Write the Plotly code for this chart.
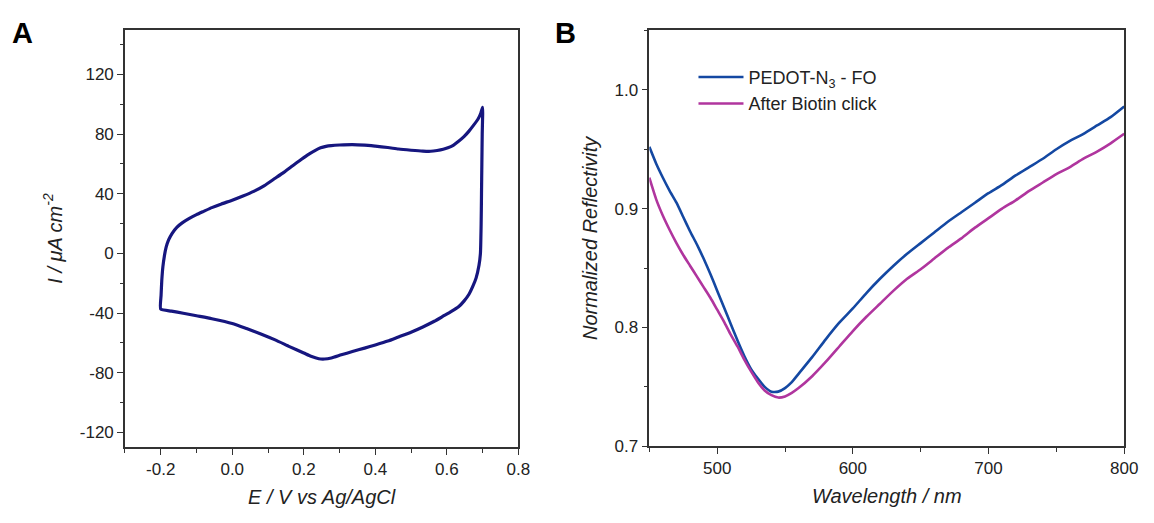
import plotly.graph_objects as go

# ---- Panel A: cyclic voltammogram ----
cv_E = [-0.200, -0.199, -0.197, -0.194, -0.190, -0.185, -0.178, -0.168, -0.155, -0.140,
        -0.120, -0.100, -0.080, -0.057, -0.030, 0.000, 0.030, 0.060, 0.090, 0.120,
        0.145, 0.170, 0.190, 0.209, 0.230, 0.247, 0.262, 0.277, 0.300, 0.336, 0.370,
        0.400, 0.435, 0.465, 0.500, 0.533, 0.555, 0.573, 0.590, 0.603, 0.618, 0.632,
        0.648, 0.662, 0.675, 0.687, 0.695, 0.700,
        0.699, 0.698, 0.697, 0.696, 0.694, 0.690, 0.682, 0.672, 0.662, 0.648, 0.632,
        0.612, 0.593, 0.565, 0.533, 0.500, 0.465, 0.435, 0.400, 0.370, 0.336, 0.305,
        0.277, 0.258, 0.242, 0.220, 0.200, 0.160, 0.120, 0.080, 0.040, 0.000, -0.057,
        -0.100, -0.137, -0.170, -0.200]
cv_I = [-37.3, -28.0, -18.0, -9.0, -2.0, 4.0, 9.0, 13.5, 17.5, 20.5,
        23.5, 26.0, 28.2, 30.7, 33.2, 35.7, 38.5, 41.6, 45.5, 50.4,
        54.5, 59.0, 62.5, 65.8, 68.8, 70.8, 71.8, 72.3, 72.7, 73.0, 72.6,
        71.9, 71.0, 70.0, 69.2, 68.6, 68.5, 69.0, 69.8, 70.8, 72.5, 75.0,
        78.3, 82.0, 86.0, 90.0, 94.0, 98.0,
        80.0, 60.0, 40.0, 20.0, 0.0, -8.0, -16.4, -22.5, -27.4, -32.0, -36.0,
        -39.0, -41.6, -45.5, -49.3, -52.8, -56.0, -58.8, -61.4, -63.5, -65.8, -68.0,
        -70.1, -70.8, -70.6, -69.0, -66.8, -62.5, -58.0, -54.0, -50.4, -47.0, -43.8,
        -41.8, -40.1, -38.7, -37.3]

# ---- Panel B: reflectivity spectra ----
wl = [450, 455, 460, 465, 470, 475, 480, 485, 490, 495, 500, 505, 510, 515, 520, 525,
      530, 535, 540, 545, 550, 555, 560, 570, 580, 590, 600, 610, 620, 630, 640, 650,
      660, 670, 680, 690, 700, 710, 720, 730, 740, 750, 760, 770, 780, 790, 800]
refl_pedot = [0.952, 0.938, 0.926, 0.915, 0.905, 0.893, 0.881, 0.870, 0.858, 0.845,
              0.831, 0.817, 0.803, 0.789, 0.776, 0.765, 0.757, 0.750, 0.746, 0.746,
              0.749, 0.754, 0.761, 0.775, 0.790, 0.804, 0.816, 0.829, 0.841, 0.852,
              0.862, 0.871, 0.880, 0.889, 0.897, 0.905, 0.913, 0.920, 0.928, 0.935,
              0.942, 0.950, 0.957, 0.963, 0.970, 0.977, 0.986]
refl_biotin = [0.926, 0.908, 0.894, 0.882, 0.871, 0.861, 0.852, 0.843, 0.834, 0.825,
               0.815, 0.805, 0.794, 0.784, 0.773, 0.763, 0.754, 0.747, 0.743, 0.741,
               0.742, 0.745, 0.749, 0.759, 0.771, 0.784, 0.797, 0.809, 0.820, 0.831,
               0.841, 0.849, 0.858, 0.867, 0.875, 0.884, 0.892, 0.900, 0.907, 0.915,
               0.922, 0.929, 0.935, 0.942, 0.948, 0.955, 0.963]

W, H = 1154, 523
FONT = "Liberation Sans, Arial, sans-serif"
TICK = 17
TITLE = 20

fig = go.Figure()
fig.add_trace(go.Scatter(x=cv_E, y=cv_I, mode="lines",
                         line=dict(color="#16167f", width=3.2, shape="spline", smoothing=0.5),
                         showlegend=False, xaxis="x", yaxis="y"))
fig.add_trace(go.Scatter(x=wl, y=refl_pedot, mode="lines", name="PEDOT-N<sub>3</sub> - FO",
                         line=dict(color="#1448a2", width=2.6, shape="spline", smoothing=0.5),
                         xaxis="x2", yaxis="y2"))
fig.add_trace(go.Scatter(x=wl, y=refl_biotin, mode="lines", name="After Biotin click",
                         line=dict(color="#b0359e", width=2.6, shape="spline", smoothing=0.5),
                         xaxis="x2", yaxis="y2"))

ax_common = dict(showline=True, linecolor="#333", linewidth=1.5, mirror=True,
                 ticks="outside", ticklen=6, tickwidth=1.3, tickcolor="#333",
                 showgrid=False, zeroline=False,
                 tickfont=dict(family=FONT, size=TICK, color="#222"))
minor_common = dict(ticks="outside", ticklen=3.5, tickcolor="#333")

fig.update_layout(
    width=W, height=H, margin=dict(l=0, r=0, t=0, b=0),
    plot_bgcolor="white", paper_bgcolor="white",
    font=dict(family=FONT, color="#222"),
    xaxis=dict(ax_common, domain=[126.5 / W, 524.7 / W], range=[-0.3, 0.8],
               tickvals=[-0.2, 0.0, 0.2, 0.4, 0.6, 0.8], ticktext=["-0.2", "0.0", "0.2", "0.4", "0.6", "0.8"],
               minor=dict(minor_common, dtick=0.1, tick0=0), anchor="y",
               title=dict(text="<i>E / V vs Ag/AgCl</i>", font=dict(family=FONT, size=TITLE, color="#222"), standoff=12)),
    yaxis=dict(ax_common, domain=[(H - 456) / H, (H - 30.3) / H], range=[-130, 150],
               tickvals=[-120, -80, -40, 0, 40, 80, 120],
               ticktext=["-120", "-80", "-40", "0", "40", "80", "120"],
               minor=dict(minor_common, dtick=20, tick0=0), anchor="x",
               title=dict(text="<i>I / μA cm<sup>-2</sup></i>", font=dict(family=FONT, size=TITLE, color="#222"), standoff=12)),
    xaxis2=dict(ax_common, domain=[657.3 / W, 1138 / W], range=[450, 800],
                tickvals=[500, 600, 700, 800],
                minor=dict(minor_common, dtick=50, tick0=0), anchor="y2",
                title=dict(text="<i>Wavelength / nm</i>", font=dict(family=FONT, size=TITLE, color="#222"), standoff=12)),
    yaxis2=dict(ax_common, domain=[(H - 455) / H, (H - 31) / H], range=[0.7, 1.05],
                tickvals=[0.7, 0.8, 0.9, 1.0], ticktext=["0.7", "0.8", "0.9", "1.0"],
                minor=dict(minor_common, dtick=0.05, tick0=0), anchor="x2",
                title=dict(text="<i>Normalized Reflectivity</i>", font=dict(family=FONT, size=TITLE, color="#222"), standoff=12)),
    legend=dict(x=702 / W, y=(H - 60) / H, xanchor="left", yanchor="top",
                bgcolor="rgba(0,0,0,0)", font=dict(family=FONT, size=18, color="#222"),
                tracegroupgap=0, itemwidth=45),
    annotations=[
        dict(text="<b>A</b>", x=10 / W, y=(H - 34) / H, xref="paper", yref="paper", xanchor="left",
             yanchor="middle", showarrow=False, font=dict(family=FONT, size=29, color="#000")),
        dict(text="<b>B</b>", x=560 / W, y=(H - 34) / H, xref="paper", yref="paper", xanchor="left",
             yanchor="middle", showarrow=False, font=dict(family=FONT, size=29, color="#000")),
    ],
)

fig.write_html("out.html")
